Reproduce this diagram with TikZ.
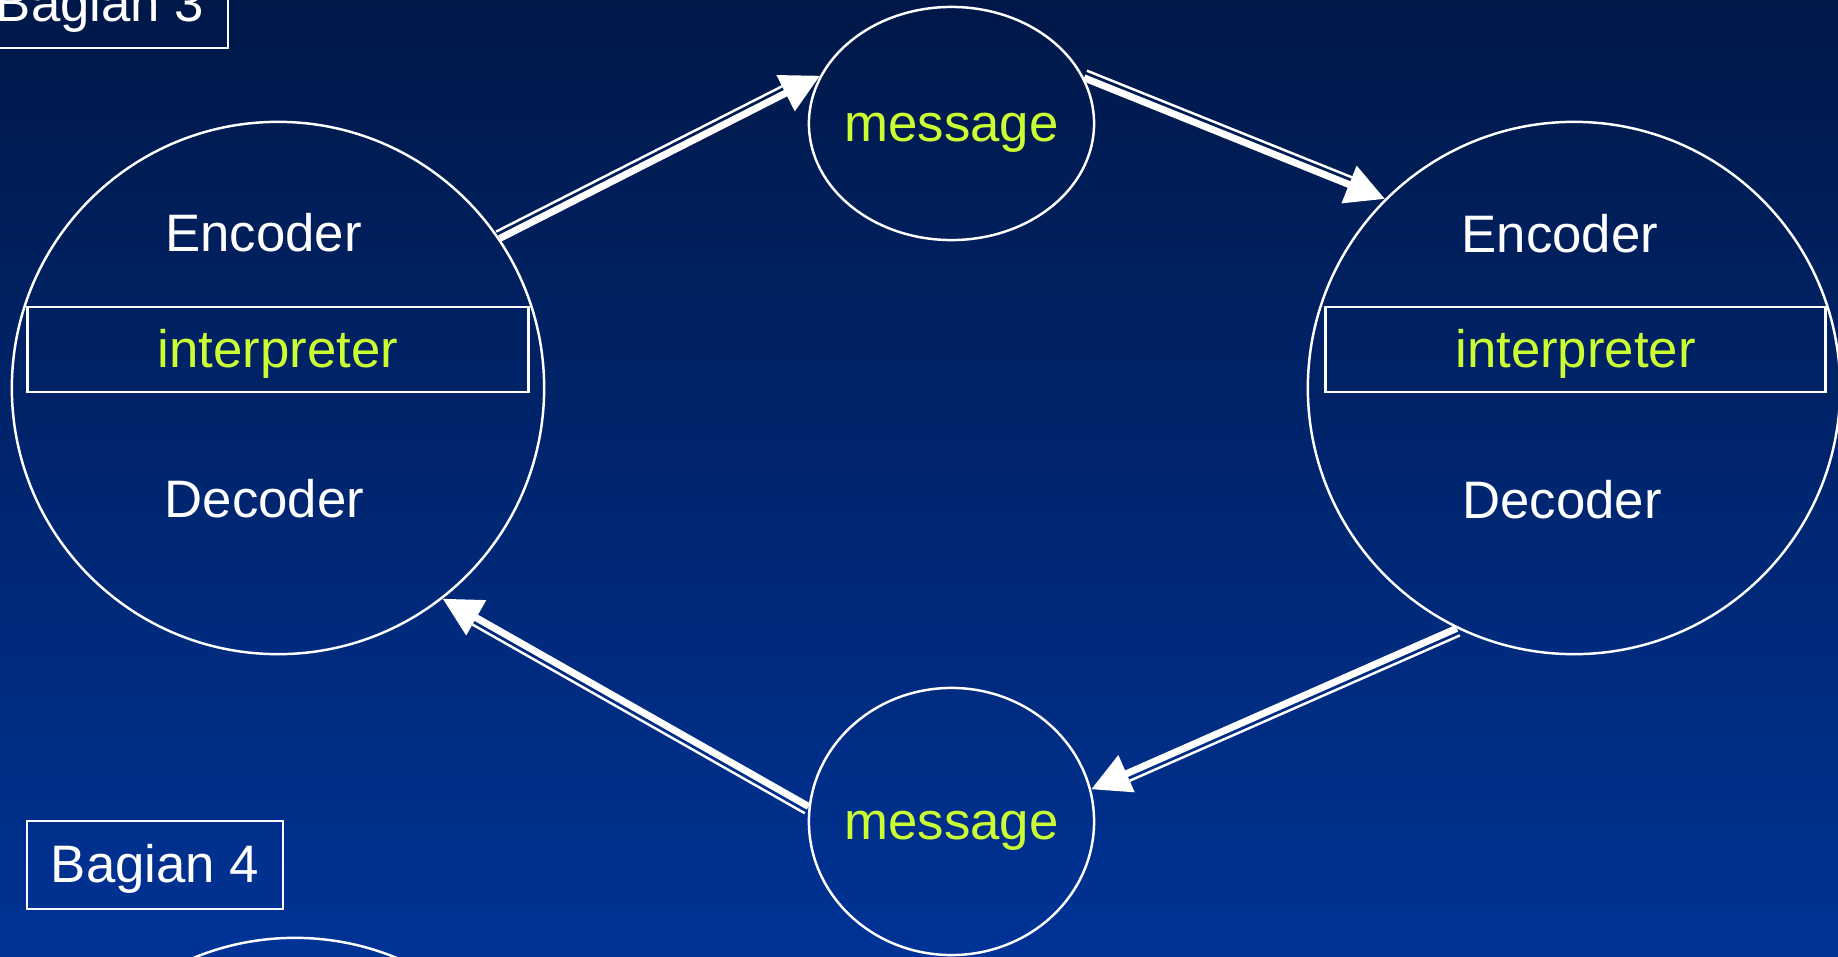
\documentclass[tikz,border=0pt]{standalone}
\usepackage{fontspec}
\setmainfont{Liberation Sans}
\usepackage{tikz}
\usetikzlibrary{shapes.geometric,calc,arrows.meta}
\definecolor{biruAtas}{RGB}{0, 24, 72}
\definecolor{biruBawah}{RGB}{0, 51, 150}
\definecolor{kuningHijau}{RGB}{204, 255, 51}
\newcommand{\teks}{\fontsize{15}{18}\selectfont}
\tikzstyle{edge}  =[line width=2pt, white,
                    -{Triangle[length=11pt,width=11pt]}]
\tikzstyle{thinedge}=[line width=0.7pt, white, shorten >=11pt]
\tikzstyle{person}=[circle, draw=white, minimum size=5.32cm,
                    line width=0.7pt, inner sep=0pt]
\tikzstyle{msg}=[ellipse, draw=white, minimum width=2.85cm,
                    line width=0.7pt, inner sep=0pt, text=kuningHijau,
                    font=\teks, text height=12.2pt, text depth=2pt]
\tikzstyle{interp}=[rectangle, draw=white, minimum width=5cm,
                    minimum height=0.85cm, line width=0.8pt, inner sep=0pt,
                    text=kuningHijau, font=\teks,
                    text height=12.2pt, text depth=2pt]
\tikzstyle{bagianbox}=[rectangle, draw=white, minimum width=2.56cm,
                    minimum height=0.88cm, line width=0.8pt, inner sep=0pt,
                    text=white, font=\teks,
                    text height=12.2pt, text depth=2pt]
\tikzstyle{role}=[white, font=\teks, anchor=base, inner sep=0pt]

\begin{document}
\begin{tikzpicture}[x=0.01cm,y=-0.01cm]

    \useasboundingbox (0,0) rectangle (1838,957);
    \clip (0,0) rectangle (1838,957);
    \shade [top color=biruAtas, bottom color=biruBawah] (0,0) rectangle (1838,957);

    % the two sides
    \draw (278,388) node (encL) [person] {};
    \draw (1574,388) node (encR) [person] {};
    \draw (295,1204) node (encB) [person] {};

    \draw (278,349.5) node (intL) [interp] {interpreter};
    \draw (1575.5,349.5) node (intR) [interp] {interpreter};

    \draw (263.5,251) node (encTxtL) [role] {Encoder};
    \draw (264.5,517) node (decTxtL) [role] {Decoder};
    \draw (1560,252) node (encTxtR) [role] {Encoder};
    \draw (1562,518) node (decTxtR) [role] {Decoder};

    % messages
    \draw (951.5,123.5) node (msgT) [msg, minimum height=2.33cm] {\makebox[0pt]{message}};
    \draw (951.5,821.5) node (msgB) [msg, minimum height=2.67cm] {\makebox[0pt]{message}};

    \draw (100,4) node (bag3) [bagianbox] {Bagian 3};
    \draw (155,865) node (bag4) [bagianbox] {Bagian 4};

    \foreach \src/\dst in {encL.34/msgT.160, msgT.19/encR.135,
        encR.244/msgB.13, msgB.174/encL.308} {
        \draw [edge] (\src) -- (\dst);
        \draw [thinedge] ($(\src)!2.2pt!90:(\dst)$) -- ($(\dst)!2.2pt!-90:(\src)$);
    }

\end{tikzpicture}
\end{document}
